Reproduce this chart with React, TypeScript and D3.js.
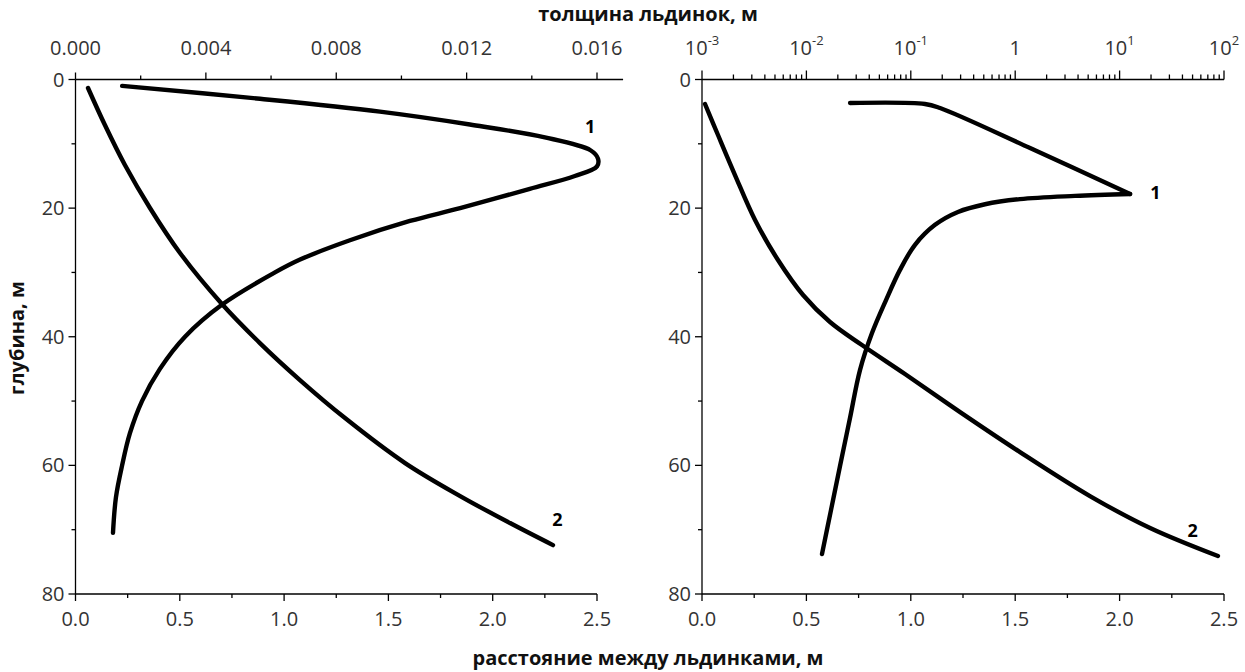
import React from 'react';
import * as d3 from 'd3';

// ---------- axis ticks ----------
const depthTicks = [0, 20, 40, 60, 80];
const depthMinor = [10, 30, 50, 70];
const distTicks = [0, 0.5, 1, 1.5, 2, 2.5];
const distTickLabels = ['0.0', '0.5', '1.0', '1.5', '2.0', '2.5'];
const distMinor = [0.25, 0.75, 1.25, 1.75, 2.25];
const thickTicks = [0, 0.004, 0.008, 0.012, 0.016];
const thickTickLabels = ['0.000', '0.004', '0.008', '0.012', '0.016'];
const thickMinor = [0.002, 0.006, 0.01, 0.014];
const logTicks = [0.001, 0.01, 0.1, 1, 10, 100];
const logBase = ['10', '10', '10', '1', '10', '10'];
const logExp = ['-3', '-2', '-1', '', '1', '2'];

// ---------- left panel data ----------
const leftThickDepth = [1, 3, 5, 7, 9, 11, 12.3, 13.5, 15, 17, 20, 22, 25, 28, 30, 35, 40, 45, 50, 55, 60, 65, 70.5];
const leftThick = [0.00143, 0.00566, 0.00934, 0.0121, 0.0144, 0.0158, 0.01603, 0.0160, 0.01532, 0.01394, 0.0118, 0.01026, 0.00842, 0.00689, 0.00612, 0.0045, 0.00336, 0.00259, 0.00204, 0.00167, 0.00143, 0.00124, 0.00115];
const leftDistDepth = [1.32, 7.08, 13.3, 19.98, 26.98, 34.91, 40.98, 46.73, 52.64, 59.64, 64.77, 68.97, 72.4];
const leftDist = [0.06, 0.141, 0.237, 0.357, 0.501, 0.702, 0.884, 1.076, 1.292, 1.58, 1.844, 2.083, 2.289];

// ---------- right panel data ----------
// upper branch (to the maximum) and lower branch (from the maximum)
const rightThickUpDepth = [3.65, 3.81, 4.43, 10.65, 17.8];
const rightThickUp = [0.0262, 0.1368, 0.1905, 1.387, 12.6];
const rightThickLowDepth = [17.8, 18.1, 18.6, 19.4, 20.6, 22.6, 25.7, 29.6, 34.29, 39.42, 45.18, 52.64, 60.1, 66.95, 73.8];
const rightThickLow = [12.6, 3.74, 1.11, 0.514, 0.283, 0.1706, 0.1097, 0.0788, 0.0579, 0.0425, 0.0326, 0.02616, 0.02099, 0.0172, 0.0141];
const rightDistDepth = [3.81, 8.63, 14.85, 21.85, 28.07, 33.51, 37.71, 41.29, 45.8, 51.71, 57.93, 64.77, 69.74, 74.1];
const rightDist = [0.0144, 0.0766, 0.158, 0.254, 0.364, 0.484, 0.613, 0.766, 0.972, 1.236, 1.523, 1.858, 2.146, 2.471];

// curve label anchors [x value, depth]
const leftLabel1 = [0.01579, 8.3];
const leftLabel2 = [2.31, 69.5];
const rightLabel1 = [22, 18.6];
const rightLabel2 = [2.35, 71.2];

const FONT = '"Open Sans", "Noto Sans", sans-serif';
const TICK_COLOR = '#333';

const W = 1245, H = 672;
const Y0 = 79.5, Y1 = 594;
const LX0 = 75.5, LX1 = 597;
const RX0 = 702, RX1 = 1224;

export default function App() {
  const depth = d3.scaleLinear().domain([0, 80]).range([Y0, Y1]);
  const lBottom = d3.scaleLinear().domain([0, 2.5]).range([LX0, LX1]);
  const lTop = d3.scaleLinear().domain([0, 0.016]).range([LX0, LX1]);
  const rBottom = d3.scaleLinear().domain([0, 2.5]).range([RX0, RX1]);
  const rTop = d3.scaleLog().domain([0.001, 100]).range([RX0, RX1]);

  const lineGen = (xs: number[], ds: number[], xs_: (v: number) => number) =>
    d3.line<number>()
      .x((_, i) => xs_(xs[i]))
      .y((_, i) => depth(ds[i]))
      .curve(d3.curveCatmullRom.alpha(0.5))(xs.map((_, i) => i)) || '';

  const MAJ = 7, MIN = 4;
  const stroke = { stroke: '#000', strokeWidth: 1.3 };

  const logMinor: number[] = [];
  for (let e = -3; e < 2; e++) for (let m = 2; m <= 9; m++) logMinor.push(m * Math.pow(10, e));

  const depthAxis = (x0: number) => (
    <g>
      <line x1={x0} x2={x0} y1={Y0} y2={Y1} {...stroke} />
      {depthTicks.map((t) => (
        <g key={'dt' + t}>
          <line x1={x0 - MAJ} x2={x0} y1={depth(t)} y2={depth(t)} {...stroke} />
          <text x={x0 - 11} y={depth(t)} dy="0.35em" textAnchor="end" fontSize={20} fill={TICK_COLOR} fontFamily={FONT}>{t}</text>
        </g>
      ))}
      {depthMinor.map((t) => (
        <line key={'dm' + t} x1={x0 - MIN} x2={x0} y1={depth(t)} y2={depth(t)} {...stroke} />
      ))}
    </g>
  );

  const bottomAxis = (sc: d3.ScaleLinear<number, number>) => (
    <g>
      <line x1={sc(0)} x2={sc(2.5)} y1={Y1} y2={Y1} {...stroke} />
      {distTicks.map((t, i) => (
        <g key={'bt' + t}>
          <line x1={sc(t)} x2={sc(t)} y1={Y1} y2={Y1 + MAJ} {...stroke} />
          <text x={sc(t)} y={Y1 + 32} textAnchor="middle" fontSize={20} fill={TICK_COLOR} fontFamily={FONT}>{distTickLabels[i]}</text>
        </g>
      ))}
      {distMinor.map((t) => (
        <line key={'bm' + t} x1={sc(t)} x2={sc(t)} y1={Y1} y2={Y1 + MIN} {...stroke} />
      ))}
    </g>
  );

  return (
    <svg width={W} height={H} style={{ position: 'absolute', left: 0, top: 0, background: '#fff' }}>
      {/* titles */}
      <text x={648} y={21} textAnchor="middle" fontSize={20} fontWeight="bold" fontFamily={FONT} fill="#111">толщина льдинок, м</text>
      <text x={648} y={665} textAnchor="middle" fontSize={20} fontWeight="bold" fontFamily={FONT} fill="#111">расстояние между льдинками, м</text>
      <text transform={`translate(24,338) rotate(-90)`} textAnchor="middle" fontSize={20} fontWeight="bold" fontFamily={FONT} fill="#111">глубина, м</text>

      {/* left panel axes */}
      {depthAxis(LX0)}
      {bottomAxis(lBottom)}
      <line x1={LX0} x2={lTop(0.0168)} y1={Y0} y2={Y0} {...stroke} />
      {thickTicks.map((t, i) => (
        <g key={'tt' + t}>
          <line x1={lTop(t)} x2={lTop(t)} y1={Y0} y2={Y0 - MAJ} {...stroke} />
          <text x={lTop(t)} y={Y0 - 25} textAnchor="middle" fontSize={20} fill={TICK_COLOR} fontFamily={FONT}>{thickTickLabels[i]}</text>
        </g>
      ))}
      {thickMinor.map((t) => (
        <line key={'tm' + t} x1={lTop(t)} x2={lTop(t)} y1={Y0} y2={Y0 - MIN} {...stroke} />
      ))}

      {/* right panel axes */}
      {depthAxis(RX0)}
      {bottomAxis(rBottom)}
      <line x1={RX0} x2={RX1} y1={Y0} y2={Y0} {...stroke} />
      {logTicks.map((t, i) => (
        <g key={'lt' + t}>
          <line x1={rTop(t)} x2={rTop(t)} y1={Y0} y2={Y0 - MAJ - 2} {...stroke} />
          <text x={rTop(t)} y={Y0 - 25} textAnchor="middle" fontSize={20} fill={TICK_COLOR} fontFamily={FONT}>
            {logBase[i]}
            {logExp[i] !== '' && <tspan dy={-10} fontSize={13}>{logExp[i]}</tspan>}
          </text>
        </g>
      ))}
      {logMinor.map((t, i) => (
        <line key={'lm' + i} x1={rTop(t)} x2={rTop(t)} y1={Y0} y2={Y0 - MIN - 1} {...stroke} />
      ))}

      {/* curves */}
      <g fill="none" stroke="#000" strokeWidth={4.4} strokeLinecap="round" strokeLinejoin="round">
        <path d={lineGen(leftThick, leftThickDepth, lTop)} />
        <path d={lineGen(leftDist, leftDistDepth, lBottom)} />
        <path d={lineGen(rightThickUp, rightThickUpDepth, (v) => rTop(v))} />
        <path d={lineGen(rightThickLow, rightThickLowDepth, (v) => rTop(v))} />
        <path d={lineGen(rightDist, rightDistDepth, rBottom)} />
      </g>

      {/* curve labels */}
      <g fontSize={18} fontWeight="bold" fontFamily={FONT} fill="#000" textAnchor="middle">
        <text x={lTop(leftLabel1[0])} y={depth(leftLabel1[1])}>1</text>
        <text x={lBottom(leftLabel2[0])} y={depth(leftLabel2[1])}>2</text>
        <text x={rTop(rightLabel1[0])} y={depth(rightLabel1[1])}>1</text>
        <text x={rBottom(rightLabel2[0])} y={depth(rightLabel2[1])}>2</text>
      </g>
    </svg>
  );
}
